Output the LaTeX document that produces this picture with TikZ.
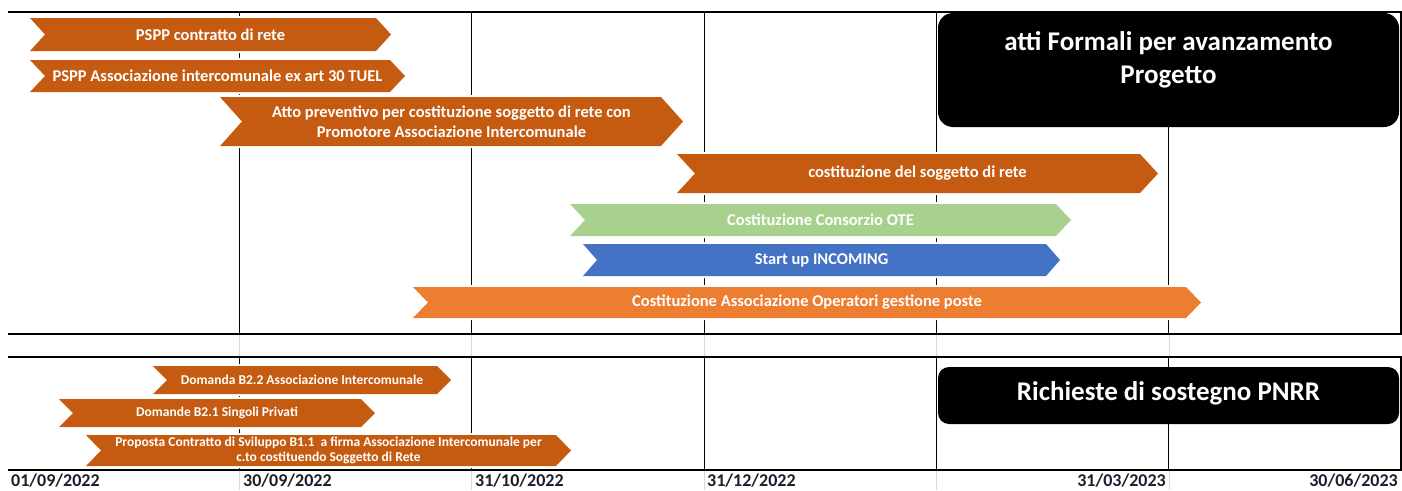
\documentclass[tikz,border=0pt]{standalone}
\usepackage{fontspec}
\setmainfont{Carlito}
\definecolor{darkor}{HTML}{C55A11}
\definecolor{lgreen}{HTML}{A9D18E}
\definecolor{mblue}{HTML}{4472C4}
\definecolor{lorange}{HTML}{ED7D31}
\definecolor{datecol}{HTML}{1C1C2C}
\definecolor{gridgray}{HTML}{D9D9D9}
\newcommand\chevbar[9]{%
  \fill[#7,preaction={draw=white,line width=4pt,line join=round}]
    (#2,#4) -- ({#3-#6},#4) -- (#3,{(#4+#5)/2}) -- ({#3-#6},#5) -- (#2,#5)
    -- ({#2+#6},{(#4+#5)/2}) -- cycle;
  \node[#8] (#1) at ({(#2+#3)/2},{(#4+#5)/2}) {#9};}
\begin{document}
\begin{tikzpicture}[x=1pt,y=-1pt,
  frame/.style={line width=1.6pt,black},
  vline/.style={line width=1.1pt,black},
  gline/.style={line width=0.8pt,gridgray},
  bartext/.style={text=white,font=\bfseries\fontsize{16.5}{20}\selectfont,align=center,inner sep=0pt},
  smalltext/.style={text=white,font=\bfseries\fontsize{13.5}{15}\selectfont,align=center,inner sep=0pt},
  datelab/.style={text=datecol,font=\bfseries\fontsize{18}{20}\selectfont,inner sep=0pt},
  bigtext/.style={text=white,font=\bfseries\fontsize{27}{33}\selectfont,align=center,inner sep=0pt}]
\useasboundingbox (0,0) rectangle (1402,490);
% grid
\foreach \x in {239.3,471.7,704.1,936.5,1168.9} {
  \draw[vline] (\x,12) -- (\x,334);
  \draw[vline] (\x,357) -- (\x,470);
  \draw[gline] (\x,334) -- (\x,357);
  \draw[gline] (\x,470) -- (\x,490);
}
\draw[vline] (1401,12) -- (1401,334);
\draw[vline] (1401,357) -- (1401,470);
\foreach \y in {12,334,357,470} { \draw[frame] (8,\y) -- (1401.6,\y); }
% black boxes
\fill[black,rounded corners=15pt] (938,13) rectangle (1399,127);
\node[bigtext] (formali) at (1168.5,59.5) {atti Formali per avanzamento\\Progetto};
\fill[black,rounded corners=11pt] (938,367) rectangle (1399,424);
\node[bigtext] (pnrr) at (1168.5,393) {Richieste di sostegno PNRR};
% top arrows
\chevbar{a1}{30}{391}{18}{51}{15}{darkor}{bartext}{PSPP contratto di rete}
\chevbar{a2}{30}{405}{60}{92}{15}{darkor}{bartext}{PSPP Associazione intercomunale ex art 30 TUEL}
\chevbar{a3}{220}{683}{97}{146}{22}{darkor}{bartext}{Atto preventivo per costituzione soggetto di rete con\\Promotore Associazione Intercomunale}
\chevbar{a4}{677}{1158}{154}{193}{18}{darkor}{bartext}{costituzione del soggetto di rete}
\chevbar{a5}{570}{1071}{204}{236}{15}{lgreen}{bartext}{Costituzione Consorzio OTE}
\chevbar{a6}{583}{1060}{244}{276}{14}{mblue}{bartext}{Start up INCOMING}
\chevbar{a7}{413}{1201}{287}{318}{15}{lorange}{bartext}{Costituzione Associazione Operatori gestione poste}
% bottom arrows
\chevbar{b1}{153}{451}{366}{394}{14}{darkor}{smalltext}{Domanda B2.2 Associazione Intercomunale}
\chevbar{b2}{59}{375}{399}{427}{14}{darkor}{smalltext}{Domande B2.1 Singoli Privati}
\chevbar{b3}{86}{571}{435}{466}{15}{darkor}{smalltext}{Proposta Contratto di Sviluppo B1.1\ \ a firma Associazione Intercomunale per\\c.to costituendo Soggetto di Rete}
% dates
\node[datelab,anchor=base west] (d1) at (11,486) {01/09/2022};
\node[datelab,anchor=base west] (d2) at (243,486) {30/09/2022};
\node[datelab,anchor=base west] (d3) at (475,486) {31/10/2022};
\node[datelab,anchor=base west] (d4) at (707,486) {31/12/2022};
\node[datelab,anchor=base east] (d5) at (1166,486) {31/03/2023};
\node[datelab,anchor=base east] (d6) at (1398,486) {30/06/2023};
\end{tikzpicture}
\end{document}
